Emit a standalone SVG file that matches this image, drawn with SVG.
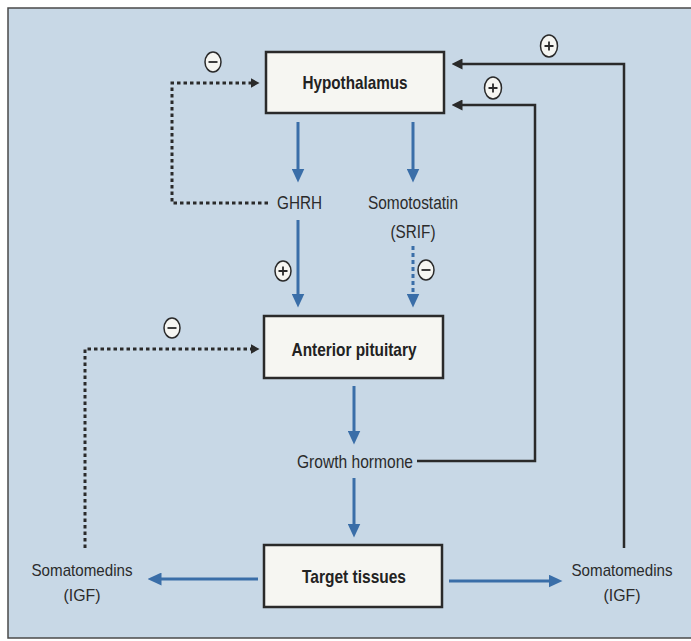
<svg xmlns="http://www.w3.org/2000/svg" width="691" height="641" viewBox="0 0 691 641">
<defs>
<style>
.box{fill:#f6f6f2;stroke:#2a2a2a;stroke-width:2.5}
.bl{font-family:"Liberation Sans",Arial,sans-serif;font-weight:bold;font-size:18.5px;fill:#222;text-anchor:middle}
.lb{font-family:"Liberation Sans",Arial,sans-serif;font-size:18px;fill:#2b2b2b;text-anchor:middle}
.sm{font-size:17px}
.blue{stroke:#3a6ea8;stroke-width:3;fill:none}
.dark{stroke:#2a2a2a;stroke-width:2.5;fill:none}
.dot{stroke:#2a2a2a;stroke-width:3;fill:none;stroke-dasharray:3.5 3}
.sign{fill:#f6f6f2;stroke:#2a2a2a;stroke-width:1.5}
.sym{stroke:#2a2a2a;stroke-width:1.8;fill:none}
</style>
<marker id="ab" viewBox="0 0 14 13" markerWidth="14" markerHeight="13" refX="0.5" refY="6.5" orient="auto" markerUnits="userSpaceOnUse"><path d="M0,0 L14,6.5 L0,13 z" fill="#3a6ea8"/></marker>
<marker id="ad" viewBox="0 0 11 11" markerWidth="11" markerHeight="11" refX="0.5" refY="5.5" orient="auto" markerUnits="userSpaceOnUse"><path d="M0,0 L11,5.5 L0,11 z" fill="#2a2a2a"/></marker>
<marker id="ao" viewBox="0 0 9 10" markerWidth="9" markerHeight="10" refX="0.5" refY="5" orient="auto" markerUnits="userSpaceOnUse"><path d="M0,0 L9,5 L0,10 z" fill="#2a2a2a"/></marker>
</defs>
<rect x="0" y="0" width="691" height="641" fill="#ffffff"/>
<rect x="8" y="8" width="683" height="630" fill="#c8d8e6"/>
<path d="M691,8 H8 V638 H691" fill="none" stroke="#4a4a4a" stroke-width="1.5"/>

<g id="connectors">
<path class="blue" d="M298,122 V169" marker-end="url(#ab)"/>
<path class="blue" d="M413,122 V169" marker-end="url(#ab)"/>
<path class="blue" d="M298,220 V294" marker-end="url(#ab)"/>
<path class="blue" d="M413,246 V294" stroke-dasharray="4 3" marker-end="url(#ab)"/>
<path class="blue" d="M354,386 V431" marker-end="url(#ab)"/>
<path class="blue" d="M354,478 V524" marker-end="url(#ab)"/>
<path class="blue" d="M258,579 H161" marker-end="url(#ab)"/>
<path class="blue" d="M449,581 H549" marker-end="url(#ab)"/>
<path class="dark" d="M417,461 H535 V105 H462" marker-end="url(#ad)"/>
<path class="dark" d="M624,548 V64 H462" marker-end="url(#ad)"/>
<path class="dot" d="M268,203 H172 V83 H251" marker-end="url(#ao)"/>
<path class="dot" d="M85,548 V349 H251" marker-end="url(#ao)"/>
</g>

<g id="signs">
<g id="s1"><ellipse class="sign" cx="213" cy="62" rx="8" ry="10"/><path class="sym" d="M208.5,62 H217.5"/></g>
<g id="s2"><ellipse class="sign" cx="283" cy="271" rx="8" ry="10"/><path class="sym" d="M278.5,271 H287.5 M283,266.5 V275.5"/></g>
<g id="s3"><ellipse class="sign" cx="426" cy="270" rx="8" ry="10"/><path class="sym" d="M421.5,270 H430.5"/></g>
<g id="s4"><ellipse class="sign" cx="172" cy="328" rx="8" ry="10"/><path class="sym" d="M167.5,328 H176.5"/></g>
<g id="s5"><ellipse class="sign" cx="549" cy="46" rx="8.5" ry="11"/><path class="sym" d="M544.5,46 H553.5 M549,41.5 V50.5"/></g>
<g id="s6"><ellipse class="sign" cx="493" cy="88" rx="8.5" ry="11"/><path class="sym" d="M488.5,88 H497.5 M493,83.5 V92.5"/></g>
</g>

<g id="hypothalamus"><rect class="box" x="266" y="52" width="178" height="61"/><text class="bl" x="355" y="89" textLength="105" lengthAdjust="spacingAndGlyphs">Hypothalamus</text></g>
<g id="anterior-pituitary"><rect class="box" x="264" y="316" width="179" height="62"/><text class="bl" x="354" y="356" textLength="125" lengthAdjust="spacingAndGlyphs">Anterior pituitary</text></g>
<g id="target-tissues"><rect class="box" x="264" y="545" width="178" height="62"/><text class="bl" x="354" y="583" textLength="104" lengthAdjust="spacingAndGlyphs">Target tissues</text></g>
<g id="ghrh"><text class="lb" x="299.5" y="209" textLength="45" lengthAdjust="spacingAndGlyphs">GHRH</text></g>
<g id="somatostatin"><text class="lb" x="413" y="209" textLength="90" lengthAdjust="spacingAndGlyphs">Somotostatin</text><text class="lb" x="413" y="238" textLength="45" lengthAdjust="spacingAndGlyphs">(SRIF)</text></g>
<g id="growth-hormone"><text class="lb" x="355" y="468" textLength="116" lengthAdjust="spacingAndGlyphs">Growth hormone</text></g>
<g id="somatomedins-left"><text class="lb sm" x="82" y="576" textLength="101" lengthAdjust="spacingAndGlyphs">Somatomedins</text><text class="lb sm" x="82" y="601" textLength="37" lengthAdjust="spacingAndGlyphs">(IGF)</text></g>
<g id="somatomedins-right"><text class="lb sm" x="622" y="576" textLength="101" lengthAdjust="spacingAndGlyphs">Somatomedins</text><text class="lb sm" x="622" y="601" textLength="37" lengthAdjust="spacingAndGlyphs">(IGF)</text></g>
</svg>
